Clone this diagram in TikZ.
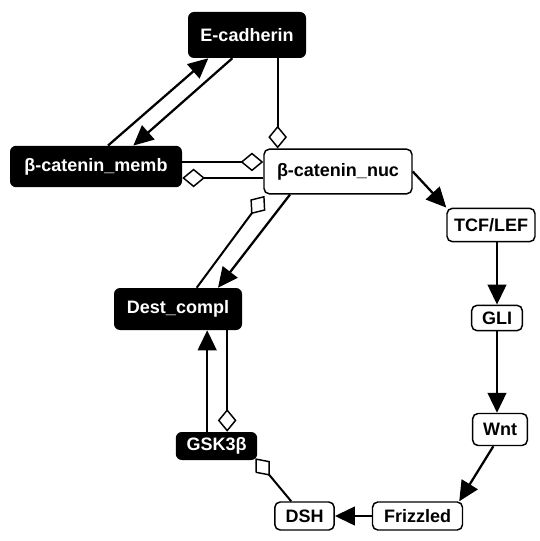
\documentclass[tikz,border=0pt]{standalone}
\usepackage{fontspec}
\setmainfont{Liberation Sans}
\usetikzlibrary{arrows.meta}

\begin{document}
\begin{tikzpicture}[x=0.75pt,y=-0.75pt,
  lbl/.style={font=\bfseries\fontsize{13.5}{16}\selectfont,inner sep=0pt},
  dark/.style={lbl,rectangle,rounded corners=4.5pt,fill=black,text=white},
  light/.style={lbl,rectangle,rounded corners=4pt,draw=black,line width=1.1pt,fill=white},
  act/.style={line width=1.7pt,-{Triangle[length=15pt,width=14pt]}},
  inh/.style={line width=1.5pt,-{Diamond[open,fill=white,length=17pt,width=14pt,line width=1.1pt]}}]
\useasboundingbox (0,0) rectangle (539,541);
% species
\node[dark,minimum width=88.5pt,minimum height=34.5pt] (ecad) at (247,35) {E-cadherin};
\node[dark,minimum width=129pt,minimum height=31pt] (memb) at (96,166.5) {β-catenin\_memb};
\node[light,minimum width=111pt,minimum height=33.5pt] (nuc) at (338,171.5) {β-catenin\_nuc};
\node[light,minimum width=66pt,minimum height=25pt] (tcf) at (491,225) {TCF/LEF};
\node[light,minimum width=38pt,minimum height=19pt] (gli) at (497,318) {GLI};
\node[light,minimum width=41pt,minimum height=24pt] (wnt) at (500,429.5) {Wnt};
\node[light,minimum width=67.5pt,minimum height=21pt] (friz) at (417.5,516) {Frizzled};
\node[light,minimum width=44.5pt,minimum height=21pt] (dsh) at (304.5,516) {DSH};
\node[dark,minimum width=61pt,minimum height=21pt] (gsk) at (216.5,446) {GSK3β};
\node[dark,minimum width=96pt,minimum height=31.5pt] (dest) at (178,309) {Dest\_compl};
% membrane pair
\draw[act] ([xshift=9pt]memb.north) -- ([xshift=-29pt]ecad.south);
\draw[act] ([xshift=-11pt]ecad.south) -- ([xshift=28pt]memb.north);
\draw[inh] ([xshift=23pt]ecad.south) -- ([xshift=23pt]ecad.south |- nuc.north);
\draw[inh] ([yshift=3.4pt]memb.east) -- ([yshift=3.4pt]memb.east -| nuc.west);
\draw[inh] ([yshift=-8.6pt]memb.east -| nuc.west) -- ([yshift=-8.6pt]memb.east);
% destruction complex
\draw[inh] ([xshift=14pt]dest.north) -- ([xshift=1pt,yshift=-1pt]nuc.south west);
\draw[act] ([xshift=-36pt]nuc.south) -- ([xshift=30pt]dest.north);
\draw[act] ([xshift=-7pt]gsk.north) -- ([xshift=-7pt]gsk.north |- dest.south);
\draw[inh] ([xshift=8pt]gsk.north |- dest.south) -- ([xshift=8pt]gsk.north);
\draw[inh] ([xshift=-10pt]dsh.north) -- ([xshift=-1.5pt,yshift=1.5pt]gsk.south east);
% signalling loop
\draw[act] (friz) -- (dsh);
\draw[act] ([xshift=-5pt]wnt.south) -- ([xshift=-3pt]friz.north east);
\draw[act] (gli.south) -- (gli.south |- wnt.north);
\draw[act] (gli.north |- tcf.south) -- (gli.north);
\draw[act] (nuc.east) -- (tcf.north west);
\end{tikzpicture}
\end{document}
